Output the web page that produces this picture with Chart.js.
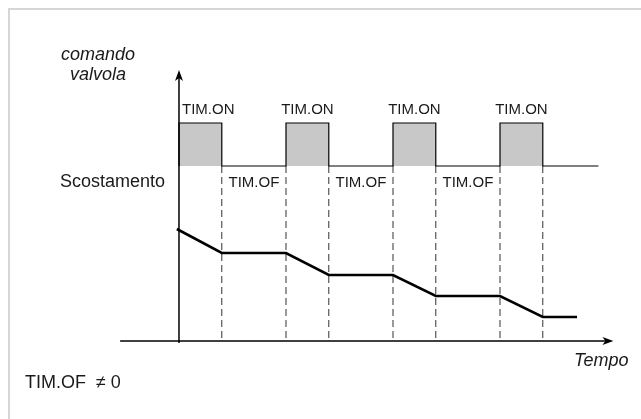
<!DOCTYPE html>
<html>
<head>
<meta charset="utf-8">
<script src="https://cdn.jsdelivr.net/npm/chart.js@4.4.0/dist/chart.umd.min.js"></script>
<style>
  html, body { margin: 0; padding: 0; background: #fff; }
  #wrap { position: relative; width: 641px; height: 419px; overflow: hidden; }
  #frame { position: absolute; left: 8px; top: 8px; width: 700px; height: 500px;
           border-top: 2px solid #d6d6d6; border-left: 2px solid #d6d6d6; }
  #chart { position: absolute; left: 0; top: 0; }
</style>
</head>
<body>
<div id="wrap">
  <div id="frame"></div>
  <canvas id="chart" width="641" height="419"></canvas>
</div>
<script>
// Valve command pulses (TIM.ON windows), time units
const onStart = [0, 5, 10, 15];
const onEnd = [2, 7, 12, 17];
const pulseLow = 17.5;
const pulseHigh = 21.8;
const commandEnd = 19.6;

// Deviation trace (Scostamento)
const devTime = [-0.1, 2, 5, 7, 10, 12, 15, 17, 18.6];
const devValue = [11.2, 8.8, 8.8, 6.6, 6.6, 4.5, 4.5, 2.4, 2.4];

// Axis extents
const xAxisRange = [-2.75, 20.3];
const yAxisRange = [-0.2, 27.1];

// Texts
const onText = 'TIM.ON';
const offText = 'TIM.OF';
const yTitle = ['comando', 'valvola'];
const xTitle = 'Tempo';
const levelText = 'Scostamento';
const noteText = 'TIM.OF  \u2260 0';

const FONT = '"Liberation Sans", Arial, Helvetica, sans-serif';

// Build the square wave from the pulse windows
const pulsePoints = [];
onStart.forEach((s, i) => {
    pulsePoints.push({ x: s, y: pulseLow }, { x: s, y: pulseHigh });
    pulsePoints.push({ x: onEnd[i], y: pulseHigh }, { x: onEnd[i], y: pulseLow });
});
pulsePoints.push({ x: commandEnd, y: pulseLow });

// Dashed guides at every pulse edge (except the one on the axis)
const edges = [...onStart, ...onEnd].filter(t => t > 0).sort((a, b) => a - b);
const guidePoints = [];
edges.forEach(t => {
    guidePoints.push({ x: t, y: pulseLow }, { x: t, y: 0 }, { x: t, y: null });
});

const devPoints = devTime.map((t, i) => ({ x: t, y: devValue[i] }));

function arrowHead(ctx, px, py, dir) {
    const len = 11, half = 4;
    ctx.beginPath();
    if (dir === 'up') {
        ctx.moveTo(px, py);
        ctx.lineTo(px - half, py + len);
        ctx.lineTo(px, py + len - 3);
        ctx.lineTo(px + half, py + len);
    } else {
        ctx.moveTo(px, py);
        ctx.lineTo(px - len, py - half);
        ctx.lineTo(px - len + 3, py);
        ctx.lineTo(px - len, py + half);
    }
    ctx.closePath();
    ctx.fill();
}

// Arrowheads and text labels, placed through the chart scales
const annotate = {
    id: 'annotate',
    afterDatasetsDraw(chart) {
        const ctx = chart.ctx;
        const xs = chart.scales.x, ys = chart.scales.y;
        const axisX = xs.getPixelForValue(0);
        const axisY = ys.getPixelForValue(0);
        const yTop = ys.getPixelForValue(yAxisRange[1]);
        const xEnd = xs.getPixelForValue(xAxisRange[1]);
        const lowPx = ys.getPixelForValue(pulseLow);
        const highPx = ys.getPixelForValue(pulseHigh);

        ctx.save();
        ctx.fillStyle = '#000';
        arrowHead(ctx, axisX, yTop, 'up');
        arrowHead(ctx, xEnd, axisY, 'right');

        ctx.fillStyle = '#1a1a1a';
        ctx.textBaseline = 'middle';

        // TIM.ON above each pulse
        ctx.font = '15px ' + FONT;
        ctx.textAlign = 'center';
        onStart.forEach((s, i) => {
            const w = ctx.measureText(onText).width;
            let cx = (xs.getPixelForValue(s) + xs.getPixelForValue(onEnd[i])) / 2;
            cx = Math.max(cx, axisX + w / 2 + 3);
            ctx.fillText(onText, cx, highPx - 13);
        });
        // TIM.OF between pulses
        for (let i = 0; i < onStart.length - 1; i++) {
            const cx = (xs.getPixelForValue(onEnd[i]) + xs.getPixelForValue(onStart[i + 1])) / 2;
            ctx.fillText(offText, cx, lowPx + 17);
        }

        // axis titles and side notes
        ctx.font = 'italic 18px ' + FONT;
        ctx.fillText(yTitle[0], axisX - 81, yTop - 15);
        ctx.fillText(yTitle[1], axisX - 81, yTop + 5);
        ctx.textAlign = 'right';
        ctx.fillText(xTitle, xEnd + 15, axisY + 20);

        ctx.font = '18px ' + FONT;
        ctx.fillText(levelText, axisX - 14, lowPx + 16);
        ctx.textAlign = 'left';
        ctx.fillText(noteText, 25, axisY + 42);
        ctx.restore();
    }
};

new Chart(document.getElementById('chart'), {
    type: 'line',
    data: {
        datasets: [
            {
                label: 'Scostamento',
                data: devPoints,
                borderColor: '#000',
                borderWidth: 2.6,
                pointRadius: 0,
                fill: false,
                order: 0
            },
            {
                label: 'asse x',
                data: [{ x: xAxisRange[0], y: 0 }, { x: xAxisRange[1] - 0.3, y: 0 }],
                borderColor: '#000',
                borderWidth: 1.5,
                pointRadius: 0,
                fill: false,
                order: 1
            },
            {
                label: 'asse y',
                data: [{ x: 0, y: yAxisRange[0] }, { x: 0, y: yAxisRange[1] - 0.5 }],
                borderColor: '#000',
                borderWidth: 1.5,
                pointRadius: 0,
                fill: false,
                order: 1
            },
            {
                label: 'comando valvola',
                data: pulsePoints,
                borderColor: '#000',
                borderWidth: 1.2,
                backgroundColor: '#c8c8c8',
                pointRadius: 0,
                fill: { value: pulseLow },
                order: 2
            },
            {
                label: 'guide',
                data: guidePoints,
                borderColor: '#333',
                borderWidth: 1,
                borderDash: [7, 4],
                pointRadius: 0,
                fill: false,
                spanGaps: false,
                order: 3
            }
        ]
    },
    options: {
        responsive: false,
        animation: false,
        events: [],
        layout: { padding: 0 },
        elements: { line: { tension: 0, borderCapStyle: 'butt' } },
        plugins: {
            legend: { display: false },
            tooltip: { enabled: false }
        },
        scales: {
            x: { type: 'linear', display: false, min: -8.364, max: 21.589 },
            y: { type: 'linear', display: false, min: -7.8, max: 34.1 }
        }
    },
    plugins: [annotate]
});
</script>
</body>
</html>
